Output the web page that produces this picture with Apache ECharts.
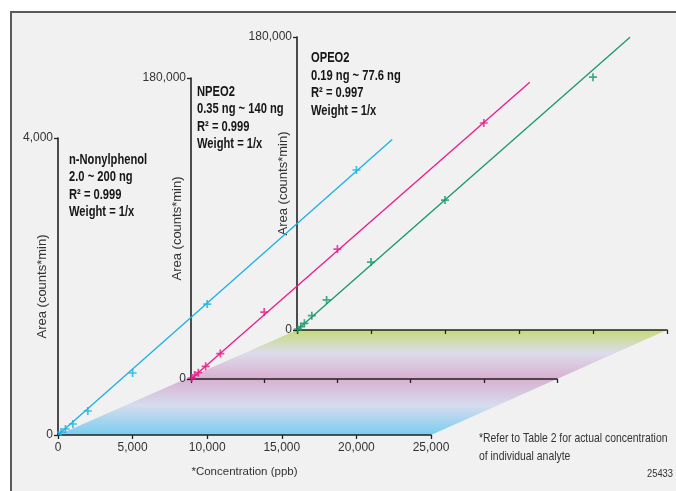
<!DOCTYPE html>
<html>
<head>
<meta charset="utf-8">
<title>Calibration curves</title>
<style>
  html, body { margin: 0; padding: 0; background: #ffffff; }
  #chart { width: 676px; height: 491px; }
</style>
<script src="https://cdn.jsdelivr.net/npm/echarts@6/dist/echarts.min.js"></script>
</head>
<body>
<div id="chart"></div>
<script>
  // 横轴刻度（三组共用）
  const xTicks = [0, 5000, 10000, 15000, 20000, 25000];

  // n-Nonylphenol（前）
  const npConc = [200, 500, 1000, 2000, 5000, 10000, 20000];
  const npArea = [40, 81, 148, 323, 835, 1764, 3569];
  const npFitConc = [0, 22400];
  const npFitArea = [0, 3980];

  // NPEO2（中）
  const npeoConc = [50, 250, 500, 1000, 2000, 5000, 10000, 20000];
  const npeoArea = [600, 2400, 3800, 7600, 15200, 40000, 77700, 153100];
  const npeoFitConc = [0, 23140];
  const npeoFitArea = [0, 177400];

  // OPEO2（后）
  const opeoConc = [50, 250, 500, 1000, 2000, 5000, 10000, 20000];
  const opeoArea = [500, 2000, 4100, 8800, 18500, 41700, 79800, 155300];
  const opeoFitConc = [0, 22500];
  const opeoFitArea = [0, 179800];

  // 纵轴范围
  const npMax = 4000;
  const eoMax = 180000;

  (function() {
    'use strict';

    const FONT = '"Liberation Sans", Arial, sans-serif';
    const PLUS = 'path://M2.75,0h1.5v2.75h2.75v1.5h-2.75v2.75h-1.5v-2.75h-2.75v-1.5h2.75z';

    const grids = [
      { left: 58, top: 138, width: 373, height: 297, outerBoundsMode: 'none', containLabel: false },
      { left: 191, top: 78, width: 366, height: 301, outerBoundsMode: 'none', containLabel: false },
      { left: 297, top: 37, width: 370, height: 293, outerBoundsMode: 'none', containLabel: false }
    ];

    document.addEventListener('DOMContentLoaded', function() {
      const chart = echarts.init(document.getElementById('chart'));
      chart.setOption(buildOption());
    });

    function zip(xs, ys) {
      return xs.map(function(x, i) { return [x, ys[i]]; });
    }

    /**
     * 横轴
     */
    function makeXAxis(index, showLabel) {
      return {
        type: 'value',
        gridIndex: index,
        min: xTicks[0],
        max: xTicks[xTicks.length - 1],
        interval: xTicks[1] - xTicks[0],
        name: showLabel ? '*Concentration (ppb)' : '',
        nameLocation: 'middle',
        nameGap: 31,
        nameMoveOverlap: false,
        nameTextStyle: { fontFamily: FONT, fontSize: 11.5, color: '#333' },
        axisLine: { onZero: false, lineStyle: { color: '#222', width: 1.6 } },
        axisTick: { show: true, length: 4, lineStyle: { color: '#222', width: 1.3 } },
        axisLabel: { show: showLabel, fontFamily: FONT, fontSize: 12, color: '#333', margin: 7 },
        splitLine: { show: false }
      };
    }

    /**
     * 纵轴
     */
    function makeYAxis(index, max, gap) {
      return {
        type: 'value',
        gridIndex: index,
        min: 0,
        max: max,
        interval: max,
        name: 'Area (counts*min)',
        nameLocation: 'middle',
        nameGap: gap,
        nameMoveOverlap: false,
        nameTextStyle: { fontFamily: FONT, fontSize: 13, color: '#333' },
        axisLine: { show: true, onZero: false, lineStyle: { color: '#222', width: 1.6 } },
        axisTick: { show: true, length: 4, lineStyle: { color: '#222', width: 1.3 } },
        axisLabel: { fontFamily: FONT, fontSize: 12, color: '#333', margin: 5 },
        splitLine: { show: false }
      };
    }

    function makeSeries(index, color, conc, area, fitConc, fitArea) {
      return [
        {
          type: 'line',
          xAxisIndex: index,
          yAxisIndex: index,
          data: zip(fitConc, fitArea),
          showSymbol: false,
          silent: true,
          lineStyle: { color: color, width: 1.3 },
          z: 3
        },
        {
          type: 'scatter',
          xAxisIndex: index,
          yAxisIndex: index,
          data: zip(conc, area),
          symbol: PLUS,
          symbolSize: 8,
          itemStyle: { color: color },
          z: 4
        }
      ];
    }

    // 注释文字（压缩字宽，模仿窄体）
    function label(x, y, lines, opts) {
      return {
        type: 'text',
        x: x,
        y: y,
        scaleX: opts.scale,
        style: {
          text: lines.join('\n'),
          font: (opts.bold ? 'bold ' : '') + opts.size + 'px ' + FONT,
          fill: opts.bold ? '#161616' : '#333',
          lineHeight: opts.lineHeight,
          textVerticalAlign: 'top'
        }
      };
    }

    function buildOption() {
      const front = grids[0];
      const back = grids[2];
      const floorTop = back.top + back.height;
      const floorBottom = front.top + front.height;
      const bold = { bold: true, size: 15, scale: 0.745, lineHeight: 17.5 };

      return {
        animation: false,
        backgroundColor: '#ffffff',
        grid: grids,
        xAxis: [makeXAxis(0, true), makeXAxis(1, false), makeXAxis(2, false)],
        yAxis: [makeYAxis(0, npMax, 9), makeYAxis(1, eoMax, 7), makeYAxis(2, eoMax, 7)],
        series: [].concat(
          makeSeries(0, '#1cb0e4', npConc, npArea, npFitConc, npFitArea),
          makeSeries(1, '#ec1a8c', npeoConc, npeoArea, npeoFitConc, npeoFitArea),
          makeSeries(2, '#17986a', opeoConc, opeoArea, opeoFitConc, opeoFitArea)
        ),
        graphic: [
          {
            type: 'rect',
            z: -10,
            shape: { x: 11, y: 12, width: 700, height: 520 },
            style: { fill: '#f1f1f1', stroke: '#5a5a5a', lineWidth: 2 }
          },
          {
            // 渐变底面
            type: 'polygon',
            z: -5,
            shape: {
              points: [
                [front.left, floorBottom],
                [front.left + front.width, floorBottom],
                [back.left + back.width, floorTop],
                [back.left, floorTop]
              ]
            },
            style: {
              fill: new echarts.graphic.LinearGradient(0, 0, 0, 1, [
                { offset: 0, color: '#c6db78' },
                { offset: 0.22, color: '#dcdcec' },
                { offset: 0.46, color: '#d8b0d0' },
                { offset: 0.72, color: '#d6dcee' },
                { offset: 1, color: '#78cdef' }
              ])
            }
          },
          label(69, 151, ['n-Nonylphenol', '2.0 ~ 200 ng', 'R² = 0.999', 'Weight = 1/x'], bold),
          label(197, 83, ['NPEO2', '0.35 ng ~ 140 ng', 'R² = 0.999', 'Weight = 1/x'], bold),
          label(311, 49.5, ['OPEO2', '0.19 ng ~ 77.6 ng', 'R² = 0.997', 'Weight = 1/x'], bold),
          label(479, 430,
            ['*Refer to Table 2 for actual concentration', 'of individual analyte'],
            { bold: false, size: 13, scale: 0.8, lineHeight: 17.5 }),
          label(647, 468, ['25433'], { bold: false, size: 11, scale: 0.85, lineHeight: 12 })
        ]
      };
    }
  })();
</script>
</body>
</html>
